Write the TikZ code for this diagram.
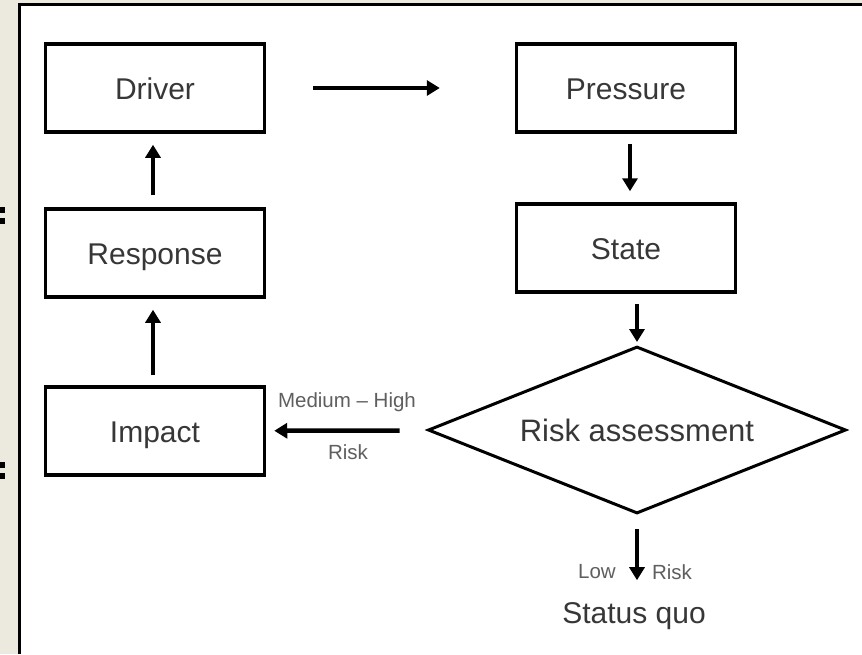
\documentclass[tikz,border=0pt]{standalone}
\usepackage{fontspec}
\setmainfont{Liberation Sans}
\usetikzlibrary{shapes.geometric, arrows.meta, positioning, calc}
\definecolor{colBg}{RGB}{236, 233, 223}
\definecolor{colTxt}{RGB}{55, 55, 55}
\definecolor{colLbl}{RGB}{95, 95, 95}

\begin{document}
\begin{tikzpicture}[x=1pt, y=-1pt,
    box/.style={draw, line width=3.5pt, minimum width=219pt, minimum height=88pt,
        inner sep=0pt, text height=22pt, text depth=0pt,
        font=\fontsize{30}{36}\selectfont, text=colTxt},
    decision/.style={diamond, aspect=2.5, draw, line width=3pt, minimum width=418pt, minimum height=167pt,
        inner sep=0pt, font=\fontsize{31}{37}\selectfont, text=colTxt},
    flow/.style={line width=4.5pt, -{Triangle[length=13pt, width=15pt]}},
    small/.style={font=\fontsize{20.5}{24}\selectfont, text=colLbl, inner sep=0pt}]
    \useasboundingbox (0,0) rectangle (862,654);

    % Slide frame
    \fill[colBg] (0,0) rectangle (862,654);
    \fill[white] (19,4) rectangle (862,654);
    \draw[line width=3pt] (19,654) -- (19,4) -- (862,4);
    \fill (0,207) rectangle (5,213);
    \fill (0,218) rectangle (5,224);
    \fill (0,462) rectangle (5,468);
    \fill (0,473) rectangle (5,479);

    % Boxes
    \node[box] (driver) at (155,88) {Driver};
    \node[box] (pressure) at (626,88) {Pressure};
    \node[box] (state) at (626,248) {State};
    \node[box] (response) at (155,253) {Response};
    \node[box] (impact) at (155,431) {Impact};
    \node[decision] (assess) at (637,430) {Risk assessment};
    \node[font=\fontsize{30}{36}\selectfont, text=colTxt, inner sep=0pt] (status) at (634,616) {Status quo};

    % Arrows
    \draw[flow, shorten <=47pt, shorten >=75pt] (driver) -- (pressure);
    \draw[flow, shorten <=10pt, shorten >=11pt] ($(pressure.south)+(4,0)$) -- ($(state.north)+(4,0)$);
    \draw[flow, shorten <=10pt, shorten >=3pt] (state.south -| assess.north) -- (assess.north);
    \draw[flow, shorten <=28pt, shorten >=8pt] (assess) -- (impact);
    \draw[flow, shorten <=10pt, shorten >=11pt] ($(impact.north)+(-2,0)$) -- ($(response.south)+(-2,0)$);
    \draw[flow, shorten <=12pt, shorten >=11pt] ($(response.north)+(-2,0)$) -- ($(driver.south)+(-2,0)$);
    \draw[flow, shorten <=14pt, shorten >=22pt] (assess.south) -- (assess.south |- status.north);

    % Labels
    \node[small] (medhigh) at (347,402) {Medium -- High};
    \node[small] (mhrisk) at (348,452) {Risk};
    \node[small] (low) at (597,572) {Low};
    \node[small] (lowrisk) at (672,572) {Risk};
\end{tikzpicture}
\end{document}
